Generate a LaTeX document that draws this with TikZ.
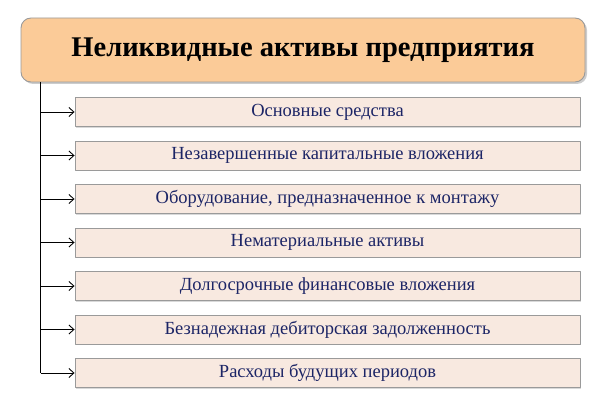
\documentclass[tikz,border=0pt]{standalone}
\usepackage{fontspec}
\setmainfont{Liberation Serif}
\usetikzlibrary{shadows, arrows.meta}
\definecolor{titlefill}{HTML}{FBCB98}
\definecolor{itemfill}{HTML}{F8E9E0}
\definecolor{itemtext}{HTML}{1C2566}
\definecolor{edgegray}{HTML}{9A9A9A}
\tikzset{
  headbox/.style={draw=edgegray, fill=titlefill, rounded corners=10pt,
    minimum width=564pt, minimum height=64pt,
    drop shadow={shadow xshift=2pt, shadow yshift=-2pt, opacity=0.4},
    font=\fontsize{28.5}{32}\selectfont\bfseries},
  itembox/.style={draw=edgegray, fill=itemfill, text=itemtext,
    minimum width=505pt, minimum height=29pt,
    drop shadow={shadow xshift=1.2pt, shadow yshift=-1.2pt, opacity=0.3},
    font=\fontsize{18.5}{22}\selectfont}
}
\begin{document}
\begin{tikzpicture}[x=1pt, y=-1pt, line join=round, line width=0.9pt,
	>={Straight Barb[length=5pt, width=9pt]}]
	\useasboundingbox (0,0) rectangle (600,409);
	\node[headbox] (head) at (303,50) {Неликвидные активы предприятия};
	\foreach \t [count=\i] in {Основные средства,
		Незавершенные капитальные вложения,
		{Оборудование, предназначенное к монтажу},
		Нематериальные активы,
		Долгосрочные финансовые вложения,
		Безнадежная дебиторская задолженность,
		Расходы будущих периодов}
	\node[itembox] (i\i) at ({327.5},{112+43.5*(\i-1)}) {\t};
	
	\coordinate (T) at (40.7,82);
	\draw (T) -- (T |- i7.west);
	\foreach \i in {1,...,7}
	\draw[->] (T |- i\i.west) -- (i\i.west);
	
\end{tikzpicture}
\end{document}
